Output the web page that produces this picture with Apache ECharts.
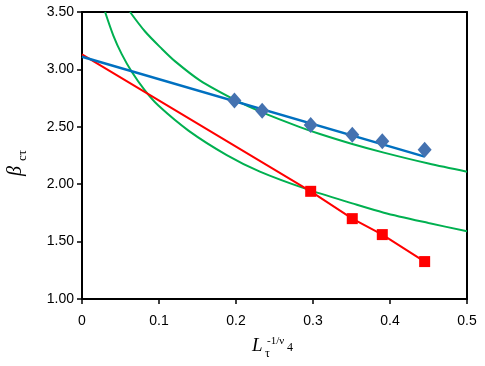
<!DOCTYPE html>
<html>
<head>
<meta charset="utf-8">
<script src="https://cdn.jsdelivr.net/npm/echarts@6/dist/echarts.min.js"></script>
<style>
  html, body { margin: 0; padding: 0; background: #fff; }
  #chart { width: 485px; height: 366px; }
</style>
</head>
<body>
<div id="chart"></div>
<script>
// x positions of the measured points
const xPts = [0.198, 0.234, 0.297, 0.351, 0.390, 0.445];
const blueVals = [2.73, 2.64, 2.515, 2.43, 2.375, 2.30];
const redX = [0.297, 0.351, 0.390, 0.445];
const redVals = [1.938, 1.70, 1.561, 1.326];

// linear fit through the blue points
const blueFit = [[0, 3.11], [0.445, 2.24]];
// red line from the intercept through the red points
const redLine = [[0, 3.13], [0.297, 1.938], [0.351, 1.70], [0.390, 1.561], [0.445, 1.326]];

// green curves
const greenUpper = [
  [0.0624, 3.50], [0.0819, 3.33], [0.1036, 3.18], [0.121, 3.07], [0.153, 2.905],
  [0.2, 2.73], [0.234, 2.625], [0.283, 2.497], [0.309, 2.437], [0.351, 2.35],
  [0.392, 2.275], [0.45, 2.18], [0.5, 2.109]
];
const greenLower = [
  [0.030, 3.50], [0.0407, 3.295], [0.0516, 3.133], [0.0646, 2.98], [0.0819, 2.815],
  [0.0992, 2.685], [0.1387, 2.465], [0.188, 2.254], [0.231, 2.11], [0.292, 1.957],
  [0.351, 1.833], [0.392, 1.752], [0.45, 1.662], [0.5, 1.59]
];

const chart = echarts.init(document.getElementById('chart'));

const sans = 'Liberation Sans, Arial, sans-serif';
const serif = 'Liberation Serif, Times New Roman, serif';

const option = {
  animation: false,
  grid: { left: 82, right: 18, top: 12, bottom: 67, outerBoundsMode: 'none' },
  xAxis: [{
    type: 'value', min: 0, max: 0.5, interval: 0.1,
    axisLine: { show: true, onZero: false, lineStyle: { color: '#000', width: 2 } },
    axisTick: { show: true, length: 5, lineStyle: { color: '#000', width: 1.5 } },
    splitLine: { show: false },
    axisLabel: {
      color: '#000', fontFamily: sans, fontSize: 14, margin: 15,
      formatter: v => v === 0 ? '0' : v.toFixed(1)
    }
  }, {
    type: 'value', min: 0, max: 0.5, position: 'top',
    axisLine: { show: true, onZero: false, lineStyle: { color: '#000', width: 2 } },
    axisTick: { show: false }, axisLabel: { show: false }, splitLine: { show: false }
  }],
  yAxis: [{
    type: 'value', min: 1, max: 3.5, interval: 0.5,
    axisLine: { show: true, onZero: false, lineStyle: { color: '#000', width: 2 } },
    axisTick: { show: true, length: 5, lineStyle: { color: '#000', width: 1.5 } },
    splitLine: { show: false },
    axisLabel: {
      color: '#000', fontFamily: sans, fontSize: 14, margin: 8,
      formatter: v => v.toFixed(2)
    }
  }, {
    type: 'value', min: 1, max: 3.5, position: 'right',
    axisLine: { show: true, onZero: false, lineStyle: { color: '#000', width: 2 } },
    axisTick: { show: false }, axisLabel: { show: false }, splitLine: { show: false }
  }],
  // axis titles with sub/superscripts
  graphic: [
    { type: 'text', x: 252, y: 345.5, style: { text: 'L', font: 'italic 19px ' + serif, fill: '#000', verticalAlign: 'middle' } },
    { type: 'text', x: 265, y: 354, style: { text: 'τ', font: '12px ' + serif, fill: '#000', verticalAlign: 'middle' } },
    { type: 'text', x: 267, y: 341.5, style: { text: '-1/ν', font: '11px ' + serif, fill: '#000', verticalAlign: 'middle' } },
    { type: 'text', x: 287, y: 348, style: { text: '4', font: '12px ' + serif, fill: '#000', verticalAlign: 'middle' } },
    { type: 'text', x: 16, y: 176, rotation: Math.PI / 2, style: { text: 'β', font: 'italic 20px ' + serif, fill: '#000', verticalAlign: 'middle' } },
    { type: 'text', x: 22.5, y: 161, rotation: Math.PI / 2, style: { text: 'cτ', font: '13px ' + serif, fill: '#000', verticalAlign: 'middle' } }
  ],
  series: [
    {
      type: 'line', data: greenUpper, smooth: 0.3, showSymbol: false, clip: true,
      lineStyle: { color: '#00B050', width: 2 }, z: 2
    },
    {
      type: 'line', data: greenLower, smooth: 0.3, showSymbol: false, clip: true,
      lineStyle: { color: '#00B050', width: 2 }, z: 2
    },
    {
      type: 'line', data: redLine, showSymbol: false,
      lineStyle: { color: '#FF0000', width: 2 }, z: 3
    },
    {
      type: 'line', data: blueFit, showSymbol: false,
      lineStyle: { color: '#0070C0', width: 2.5 }, z: 3
    },
    {
      type: 'scatter', data: xPts.map((x, i) => [x, blueVals[i]]),
      symbol: 'diamond', symbolSize: [14, 16],
      itemStyle: { color: '#4472B0', opacity: 1 }, z: 4
    },
    {
      type: 'scatter', data: redX.map((x, i) => [x, redVals[i]]),
      symbol: 'rect', symbolSize: 11,
      itemStyle: { color: '#FF0000', opacity: 1 }, z: 4
    }
  ]
};

chart.setOption(option);
</script>
</body>
</html>
